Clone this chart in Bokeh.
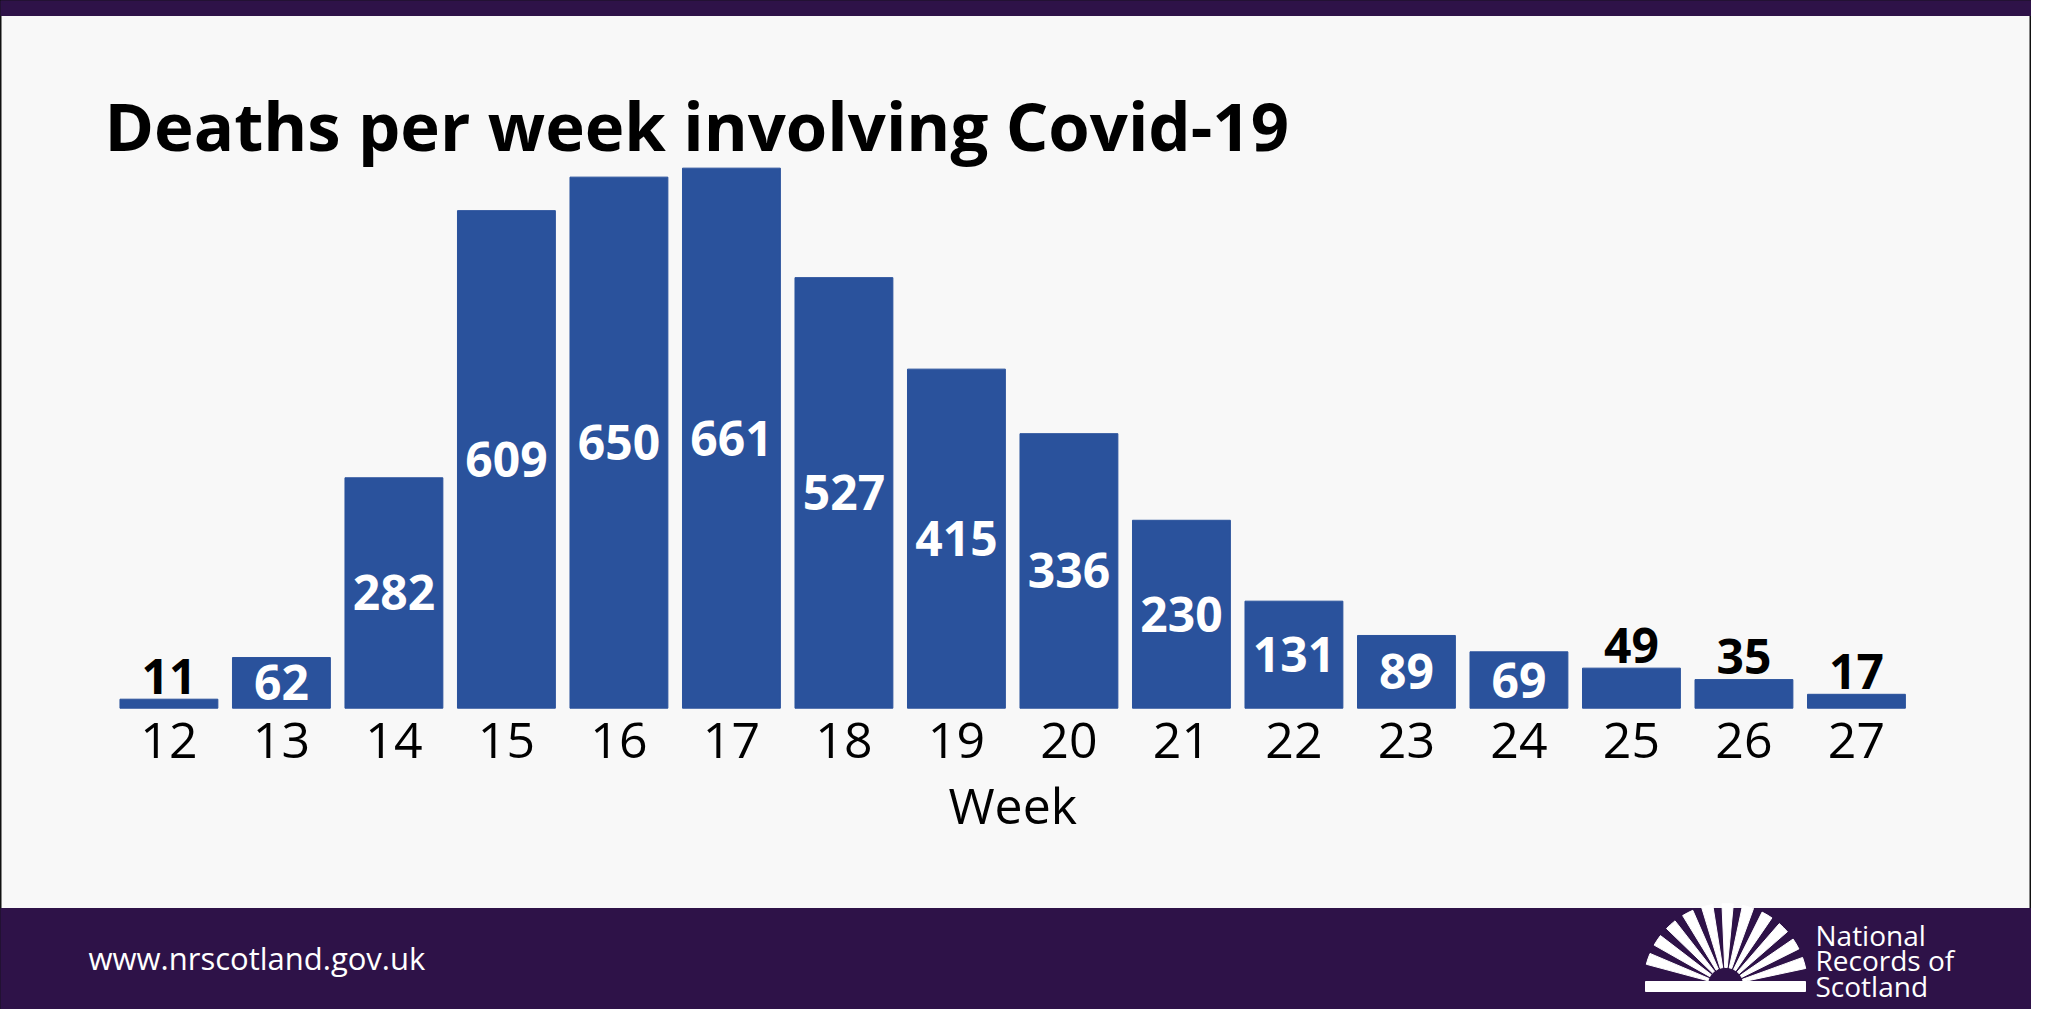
from bokeh.plotting import figure
from bokeh.models import Range1d
from bokeh.core.properties import value
from bokeh.embed import file_html
from bokeh.resources import INLINE
import math

weeks = [12, 13, 14, 15, 16, 17, 18, 19, 20, 21, 22, 23, 24, 25, 26, 27]
deaths = [11, 62, 282, 609, 650, 661, 527, 415, 336, 230, 131, 89, 69, 49, 35, 17]
week_labels = [str(w) for w in weeks]

W, H = 2031, 1009
x0, x1 = 10.503, 28.556
y0, y1 = -368.8, 866.2
xpx = (x1 - x0) / W
ypx = (y1 - y0) / H

p = figure(width=W, height=H, x_range=Range1d(x0, x1), y_range=Range1d(y0, y1),
           output_backend="svg", toolbar_location=None, min_border=0,
           background_fill_color="#f8f8f8", border_fill_color="#f8f8f8")
p.axis.visible = False
p.grid.visible = False
p.outline_line_color = "#111111"
p.outline_line_width = 2

purple = "#2e1248"
# header strip and footer band
p.quad(left=x0, right=x1, top=y1, bottom=y1 - 15 * ypx, color=purple)
p.quad(left=x0, right=x1, top=y0 + 101 * ypx, bottom=y0, color=purple)

p.vbar(x=weeks, top=deaths, width=0.87, color="#2a529c")

inside = [(w, d) for w, d in zip(weeks, deaths) if d >= 50]
outside = [(w, d) for w, d in zip(weeks, deaths) if d < 50]
p.text(x=[w for w, d in inside], y=[d / 2 for w, d in inside], text=[str(d) for w, d in inside],
       text_color="white", text_font=value("Open Sans"), text_font_style="bold",
       text_font_size="48px", text_align="center", text_baseline="middle")
p.text(x=[w for w, d in outside], y=[d + 28 for w, d in outside], text=[str(d) for w, d in outside],
       text_color="black", text_font=value("Open Sans"), text_font_style="bold",
       text_font_size="48px", text_align="center", text_baseline="middle")

p.text(x=weeks, y=[-39.5] * len(weeks), text=week_labels, text_color="black",
       text_font=value("Open Sans"), text_font_size="50px",
       text_align="center", text_baseline="middle")
p.text(x=[19.5], y=[-117.9], text=["Week"], text_color="black",
       text_font=value("Open Sans"), text_font_size="50px",
       text_align="center", text_baseline="middle")

p.text(x=[x0 + 104 * xpx], y=[y1 - 124 * ypx], text=["Deaths per week involving Covid-19"],
       text_color="black", text_font=value("Open Sans"), text_font_style="bold",
       text_font_size="67px", text_align="left", text_baseline="alphabetic")

p.text(x=[x0 + 88 * xpx], y=[y0 + (H - 957) * ypx], text=["www.nrscotland.gov.uk"],
       text_color="white", text_font=value("Open Sans"), text_font_size="31px",
       text_align="left", text_baseline="middle")
p.text(x=[x0 + 1815 * xpx] * 3,
       y=[y0 + (H - 934) * ypx, y0 + (H - 959) * ypx, y0 + (H - 985) * ypx],
       text=["National", "Records of", "Scotland"], text_color="white",
       text_font=value("Open Sans"), text_font_size="28px",
       text_align="left", text_baseline="middle", text_line_height=1.0)

# logo fan
cx, cy = x0 + 1725 * xpx, y0 + (H - 985) * ypx
starts, ends = [], []
for i in range(11):
    a = math.radians(12 + i * 14.5)
    starts.append(a)
    ends.append(a + math.radians(8))
p.annular_wedge(x=cx, y=cy, inner_radius=18, outer_radius=82,
                inner_radius_units="screen", outer_radius_units="screen",
                start_angle=starts, end_angle=ends, color="white")
p.quad(left=cx - 80 * xpx, right=cx + 80 * xpx, top=cy + 4 * ypx, bottom=cy - 6 * ypx, color="white")

open("out.html", "w").write(file_html(p, INLINE))
